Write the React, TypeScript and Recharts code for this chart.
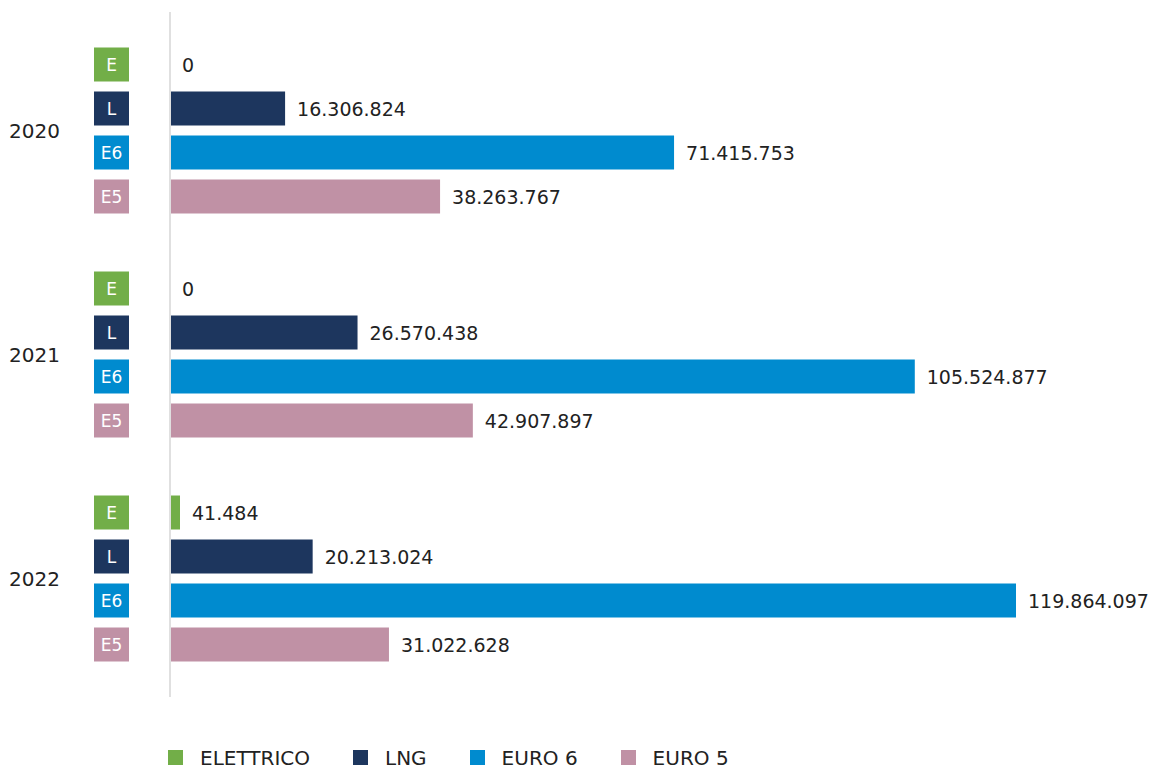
import { BarChart, Bar, XAxis, YAxis, Legend } from 'recharts';

const YEARS = ['2020', '2021', '2022'];
const ELETTRICO = [0, 0, 41484];
const LNG = [16306824, 26570438, 20213024];
const EURO6 = [71415753, 105524877, 119864097];
const EURO5 = [38263767, 42907897, 31022628];

const SERIES = [
  { key: 'elettrico', name: 'ELETTRICO', badge: 'E', color: '#72ae48' },
  { key: 'lng', name: 'LNG', badge: 'L', color: '#1d365e' },
  { key: 'euro6', name: 'EURO 6', badge: 'E6', color: '#008bcf' },
  { key: 'euro5', name: 'EURO 5', badge: 'E5', color: '#c091a5' },
];

const data = YEARS.map((year, i) => ({
  year,
  elettrico: ELETTRICO[i],
  lng: LNG[i],
  euro6: EURO6[i],
  euro5: EURO5[i],
}));

const FONT = '"DejaVu Sans", sans-serif';
const TEXT = '#222';

// 41484 -> "41.484"
function formatIt(v: number) {
  return String(Math.round(v)).replace(/\B(?=(\d{3})+(?!\d))/g, '.');
}

function BarLabel(props: any) {
  const { x, y, width, height, value, badge, color } = props;
  const cy = y + height / 2;
  const w = width < 1 ? 0 : width;
  return (
    <g>
      <rect x={x - 76} y={y} width={35} height={height} fill={color} />
      <text
        x={x - 58.5}
        y={cy}
        fill="#fff"
        fontSize={17}
        fontFamily={FONT}
        textAnchor="middle"
        dominantBaseline="central"
      >
        {badge}
      </text>
      <text
        x={x + w + 12}
        y={cy}
        fill={TEXT}
        fontSize={19}
        fontFamily={FONT}
        dominantBaseline="central"
      >
        {formatIt(value)}
      </text>
    </g>
  );
}

function LegendContent() {
  return (
    <div
      style={{
        height: 73,
        boxSizing: 'border-box',
        paddingTop: 48,
        paddingLeft: 168,
        display: 'flex',
        alignItems: 'center',
        fontFamily: FONT,
        fontSize: 20,
        color: TEXT,
      }}
    >
      {SERIES.map((s) => (
        <div key={s.key} style={{ display: 'flex', alignItems: 'center', marginRight: 43, height: 20 }}>
          <span style={{ width: 15, height: 15, background: s.color, marginRight: 17 }} />
          <span style={{ lineHeight: '20px' }}>{s.name}</span>
        </div>
      ))}
    </div>
  );
}

export default function App() {
  return (
    <div style={{ position: 'absolute', left: 0, top: 0, width: 1153, height: 770, background: '#fff' }}>
      <BarChart
        width={1153}
        height={770}
        data={data}
        layout="vertical"
        margin={{ top: 12, right: 137, bottom: 0, left: 0 }}
        barSize={34}
        barGap={10}
      >
        <XAxis type="number" hide domain={[0, 'dataMax']} />
        <YAxis
          type="category"
          dataKey="year"
          width={170}
          tickLine={false}
          tickMargin={104}
          axisLine={{ stroke: '#e0e0e0', strokeWidth: 2 }}
          tick={{ fill: TEXT, fontSize: 20, fontFamily: FONT }}
          padding={{ top: 6.5, bottom: 6.5 }}
        />
        {SERIES.map((s) => (
          <Bar
            key={s.key}
            dataKey={s.key}
            name={s.name}
            fill={s.color}
            isAnimationActive={false}
            minPointSize={(v: number) => (v > 0 ? 10 : 0.01)}
            label={<BarLabel badge={s.badge} color={s.color} />}
          />
        ))}
        <Legend verticalAlign="bottom" content={<LegendContent />} />
      </BarChart>
    </div>
  );
}
